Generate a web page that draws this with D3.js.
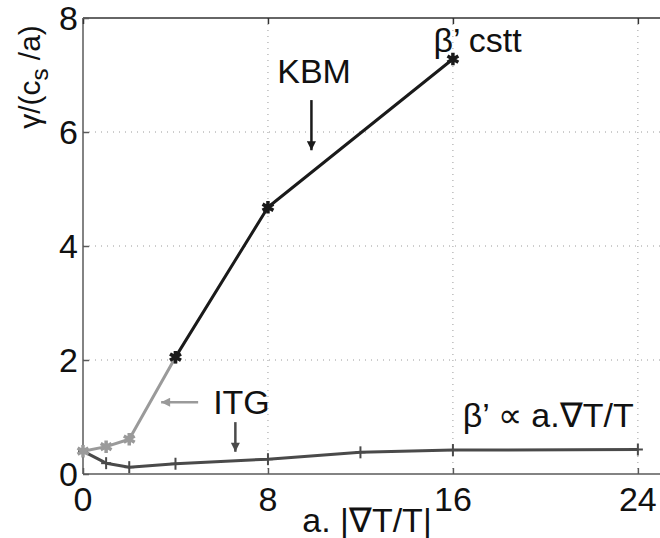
<!DOCTYPE html>
<html>
<head>
<meta charset="utf-8">
<script src="https://cdn.jsdelivr.net/npm/d3@7"></script>
<style>
  body { margin: 0; background: #fff; }
  text { font-family: "Liberation Sans", Arial, sans-serif; fill: #111; }
</style>
</head>
<body>
<div id="chart"></div>
<script>
// growth rate vs normalised temperature gradient
var kbmX = [4, 8, 16];
var kbmY = [2.05, 4.68, 7.28];

var itgX = [0, 1, 2, 4];
var itgY = [0.40, 0.48, 0.61, 2.05];

var propX = [0, 1, 2, 4, 8, 12, 16, 24];
var propY = [0.40, 0.19, 0.12, 0.18, 0.26, 0.38, 0.42, 0.43];

var xTicks = [0, 8, 16, 24];
var yTicks = [0, 2, 4, 6, 8];

var width = 660, height = 538;
// plot box edges (window.top is read-only, so no "top" here)
var padL = 83, padT = 18, padB = 474, padR = 661;

var svg = d3.select("#chart").append("svg")
  .attr("width", width)
  .attr("height", height);

var x = d3.scaleLinear().domain([0, 25]).range([padL, padR]);
var y = d3.scaleLinear().domain([0, 8]).range([padB, padT]);

var fs = 34;

// arrow heads
var defs = svg.append("defs");
function head(id, col) {
  defs.append("marker")
    .attr("id", id)
    .attr("viewBox", "0 0 10 10")
    .attr("refX", 10).attr("refY", 5)
    .attr("markerWidth", 12).attr("markerHeight", 9)
    .attr("markerUnits", "userSpaceOnUse")
    .attr("orient", "auto")
    .append("path")
    .attr("d", "M0,0 L10,5 L0,10 z")
    .attr("fill", col);
}
head("hBlack", "#1a1a1a");
head("hLight", "#9a9a9a");
head("hDark", "#4a4a4a");

// grid (dotted)
var grid = svg.append("g").attr("stroke", "#9a9a9a").attr("stroke-width", 1)
  .attr("stroke-dasharray", "1,5");
grid.selectAll(".gx").data(xTicks.filter(function(d) { return d > 0; }))
  .enter().append("line")
  .attr("x1", function(d) { return x(d); }).attr("x2", function(d) { return x(d); })
  .attr("y1", padT).attr("y2", padB);
grid.selectAll(".gy").data(yTicks.filter(function(d) { return d > 0 && d < 8; }))
  .enter().append("line")
  .attr("x1", padL).attr("x2", padR)
  .attr("y1", function(d) { return y(d); }).attr("y2", function(d) { return y(d); });

// box
var box = svg.append("g").attr("stroke", "#5a5a5a").attr("stroke-width", 1.5).attr("fill", "none");
box.append("line").attr("x1", padL).attr("x2", padR).attr("y1", padB).attr("y2", padB);
box.append("line").attr("x1", padL).attr("x2", padR).attr("y1", padT).attr("y2", padT).attr("stroke", "#333");
box.append("line").attr("x1", padL).attr("x2", padL).attr("y1", padT).attr("y2", padB);

// axes with inward ticks
var xAxis = svg.append("g")
  .attr("transform", "translate(0," + padB + ")")
  .call(d3.axisTop(x).tickValues(xTicks).tickSize(6).tickFormat(""));
xAxis.select(".domain").remove();
xAxis.selectAll("line").attr("stroke", "#5a5a5a").attr("stroke-width", 1.5);

var xTop = svg.append("g")
  .attr("transform", "translate(0," + padT + ")")
  .call(d3.axisBottom(x).tickValues(xTicks).tickSize(6).tickFormat(""));
xTop.select(".domain").remove();
xTop.selectAll("line").attr("stroke", "#333").attr("stroke-width", 1.5);

var yAxis = svg.append("g")
  .attr("transform", "translate(" + padL + ",0)")
  .call(d3.axisRight(y).tickValues(yTicks).tickSize(6).tickFormat(""));
yAxis.select(".domain").remove();
yAxis.selectAll("line").attr("stroke", "#5a5a5a").attr("stroke-width", 1.5);

// tick labels
svg.selectAll(".xl").data(xTicks).enter().append("text")
  .attr("x", function(d) { return x(d); })
  .attr("y", 511)
  .attr("text-anchor", "middle")
  .style("font-size", fs + "px")
  .text(function(d) { return d; });

svg.selectAll(".yl").data(yTicks).enter().append("text")
  .attr("x", padL - 5)
  .attr("y", function(d) { return y(d); })
  .attr("dy", "0.36em")
  .attr("text-anchor", "end")
  .style("font-size", fs + "px")
  .text(function(d) { return d; });

// axis titles
svg.append("text")
  .attr("x", 367).attr("y", 532)
  .attr("text-anchor", "middle")
  .style("font-size", fs + "px")
  .text("a. |\u2207T/T|");

var yt = svg.append("text")
  .attr("transform", "translate(40,77) rotate(-90)")
  .attr("text-anchor", "middle")
  .style("font-size", "30px");
yt.append("tspan").text("\u03b3/(c");
yt.append("tspan").attr("dy", 8).style("font-size", "24px").text("s");
yt.append("tspan").attr("dy", -8).text(" /a)");

// lines
var line = d3.line()
  .x(function(d) { return x(d[0]); })
  .y(function(d) { return y(d[1]); });

function series(xs, ys, col) {
  var pts = d3.zip(xs, ys);
  svg.append("path")
    .datum(pts)
    .attr("d", line)
    .attr("fill", "none")
    .attr("stroke", col)
    .attr("stroke-width", 3)
    .attr("stroke-linejoin", "round");
  return pts;
}

function stars(pts, col) {
  var star = d3.symbol().type(d3.symbolAsterisk).size(110);
  svg.append("g").selectAll("path").data(pts).enter().append("path")
    .attr("transform", function(d) { return "translate(" + x(d[0]) + "," + y(d[1]) + ")"; })
    .attr("d", star)
    .attr("stroke", col)
    .attr("stroke-width", 3.5)
    .attr("fill", "none");
}

function pluses(pts, col) {
  var g = svg.append("g").attr("stroke", col).attr("stroke-width", 2);
  g.selectAll(".ph").data(pts).enter().append("line")
    .attr("x1", function(d) { return x(d[0]) - 5; }).attr("x2", function(d) { return x(d[0]) + 5; })
    .attr("y1", function(d) { return y(d[1]); }).attr("y2", function(d) { return y(d[1]); });
  g.selectAll(".pv").data(pts).enter().append("line")
    .attr("x1", function(d) { return x(d[0]); }).attr("x2", function(d) { return x(d[0]); })
    .attr("y1", function(d) { return y(d[1]) - 6; }).attr("y2", function(d) { return y(d[1]) + 6; });
}

var propPts = series(propX, propY, "#4a4a4a");
pluses(propPts, "#4a4a4a");
var itgPts = series(itgX, itgY, "#9a9a9a");
stars(itgPts, "#9a9a9a");
var kbmPts = series(kbmX, kbmY, "#1a1a1a");
stars(kbmPts, "#1a1a1a");

// annotations
function label(tx, ty, s) {
  svg.append("text")
    .attr("x", x(tx)).attr("y", y(ty))
    .style("font-size", fs + "px")
    .text(s);
}
function arrow(x1, y1, x2, y2, col, id) {
  svg.append("line")
    .attr("x1", x(x1)).attr("y1", y(y1))
    .attr("x2", x(x2)).attr("y2", y(y2))
    .attr("stroke", col).attr("stroke-width", 2.5)
    .attr("marker-end", "url(#" + id + ")");
}

label(8.4, 6.86, "KBM");
arrow(9.88, 6.56, 9.88, 5.68, "#1a1a1a", "hBlack");
label(15.16, 7.40, "\u03b2\u2019 cstt");
label(5.63, 1.05, "ITG");
arrow(4.98, 1.26, 3.38, 1.26, "#9a9a9a", "hLight");
arrow(6.59, 0.91, 6.59, 0.39, "#4a4a4a", "hDark");
label(16.42, 0.82, "\u03b2\u2019 \u221d a.\u2207T/T");
</script>
</body>
</html>
